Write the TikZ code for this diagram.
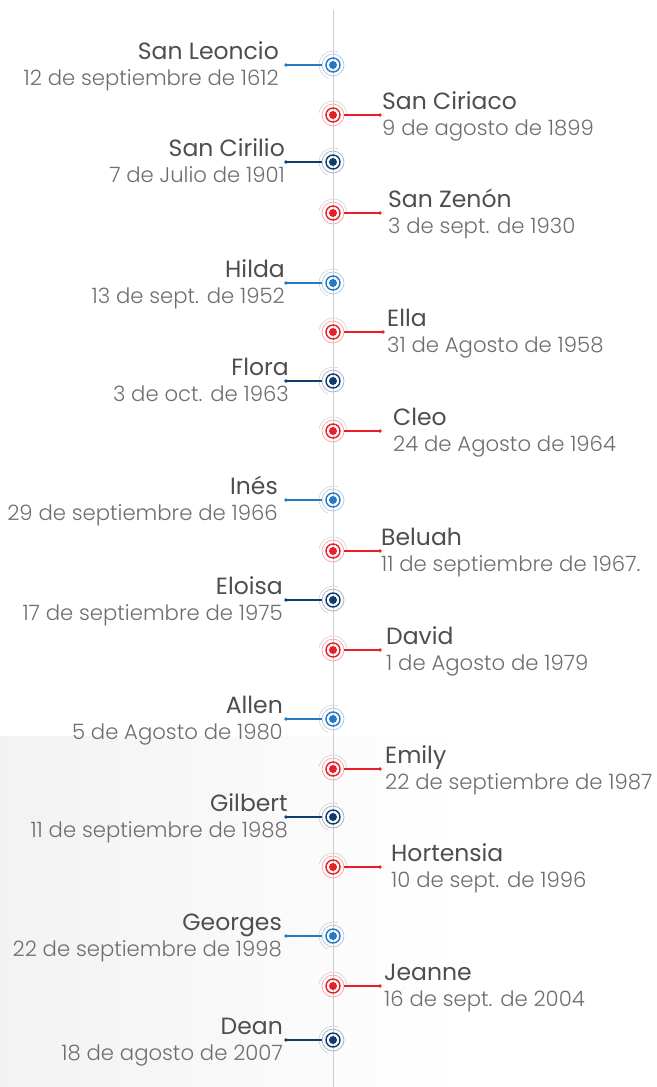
\documentclass[tikz,border=0pt]{standalone}
\usepackage{fontspec}
\newfontfamily\namefont{Poppins}
\newfontfamily\datefont{Poppins Light}
\definecolor{evblue}{RGB}{37,120,196}
\definecolor{evdark}{RGB}{15,60,110}
\definecolor{evred}{RGB}{232,30,40}
\definecolor{nametext}{RGB}{78,78,78}
\definecolor{datetext}{RGB}{110,110,110}
\definecolor{axisgray}{RGB}{205,205,205}
\tikzset{
  evname/.style={font=\namefont\fontsize{23.5}{23.5}\selectfont, text=nametext, inner sep=0pt},
  evdate/.style={font=\datefont\fontsize{21.2}{21.2}\selectfont, text=datetext, inner sep=0pt},
  marker/.style={circle, inner sep=0pt, minimum size=22pt, draw=#1!40, line width=0.7pt},
  conn/.style={draw=#1, line width=1.1pt},
}
% #1 id, #2 y, #3 color, #4 name, #5 date, #6 text right end, #7 dot x
\newcommand\evleft[7]{%
  \draw[gray!35, line width=0.6pt] (333,#2) ++(110:14) arc (110:290:14);
  \node[marker=#3] (m#1) at (333,#2) {};
  \draw[#3, line width=1.4pt] (333,#2) circle (7);
  \fill[#3] (333,#2) circle (4);
  \coordinate (d#1) at (#7,#2);
  \draw[conn=#3] (d#1) -- (m#1);
  \fill[#3] (d#1) circle (1.8);
  \node[evname, anchor=base east] (n#1) at (#6,#2-6) {#4};
  \node[evdate, anchor=base east] (t#1) at (#6,#2+20) {#5};
}
% #1 id, #2 y, #3 color, #4 name, #5 date, #6 text left start, #7 dot x
\newcommand\evright[7]{%
  \draw[gray!35, line width=0.6pt] (333,#2) ++(190:14) arc (190:370:14);
  \node[marker=#3] (m#1) at (333,#2) {};
  \draw[#3, line width=1.4pt] (333,#2) circle (7);
  \fill[#3] (333,#2) circle (4);
  \coordinate (d#1) at (#7,#2);
  \draw[conn=#3] (m#1) -- (d#1);
  \fill[#3] (d#1) circle (1.8);
  \node[evname, anchor=base west] (n#1) at (#6,#2-6) {#4};
  \node[evdate, anchor=base west] (t#1) at (#6,#2+20) {#5};
}
\begin{document}
\begin{tikzpicture}[x=1pt,y=-1pt]
\useasboundingbox (0,0) rectangle (656,1087);
\fill[white] (0,0) rectangle (656,1087);
% faded background photo area
\shade[left color=gray!10, right color=white] (0,736) rectangle (460,1087);
% timeline
\coordinate (top) at (333,10);
\coordinate (bot) at (333,1087);
\draw[axisgray, line width=1pt] (top) -- (bot);
\evleft{1}{65}{evblue}{San Leoncio}{12 de septiembre de 1612}{279}{286}
\evright{2}{115}{evred}{San Ciriaco}{9 de agosto de 1899}{382}{380}
\evleft{3}{162}{evdark}{San Cirilio}{7 de Julio de 1901}{285}{286}
\evright{4}{213}{evred}{San Zenón}{3 de sept. de 1930}{388}{380}
\evleft{5}{283}{evblue}{Hilda}{13 de sept. de 1952}{285}{286}
\evright{6}{332}{evred}{Ella}{31 de Agosto de 1958}{387}{383}
\evleft{7}{381}{evdark}{Flora}{3 de oct. de 1963}{289}{286}
\evright{8}{431}{evred}{Cleo}{24 de Agosto de 1964}{393}{380}
\evleft{9}{500}{evblue}{Inés}{29 de septiembre de 1966}{278}{286}
\evright{10}{551}{evred}{Beluah}{11 de septiembre de 1967.}{381}{380}
\evleft{11}{600}{evdark}{Eloisa}{17 de septiembre de 1975}{283}{286}
\evright{12}{650}{evred}{David}{1 de Agosto de 1979}{386}{380}
\evleft{13}{719}{evblue}{Allen}{5 de Agosto de 1980}{283}{286}
\evright{14}{769}{evred}{Emily}{22 de septiembre de 1987}{385}{380}
\evleft{15}{817}{evdark}{Gilbert}{11 de septiembre de 1988}{288}{286}
\evright{16}{867}{evred}{Hortensia}{10 de sept. de 1996}{391}{380}
\evleft{17}{936}{evblue}{Georges}{22 de septiembre de 1998}{282}{286}
\evright{18}{986}{evred}{Jeanne}{16 de sept. de 2004}{384}{380}
\evleft{19}{1040}{evdark}{Dean}{18 de agosto de 2007}{283}{286}
\end{tikzpicture}
\end{document}
